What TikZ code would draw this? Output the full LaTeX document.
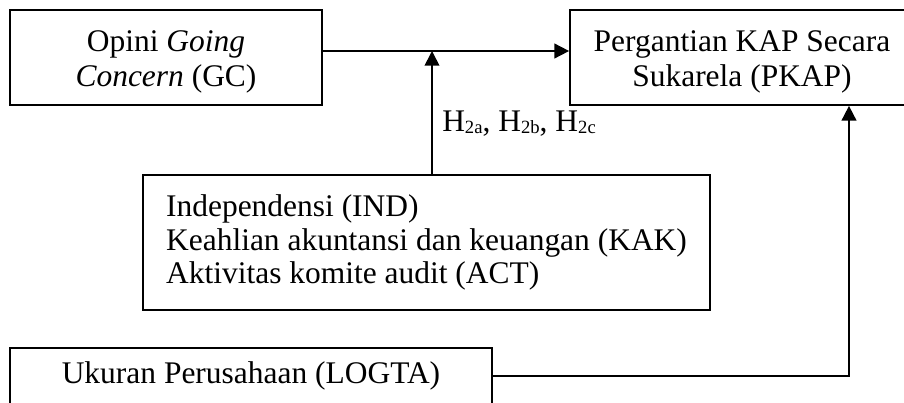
\documentclass[tikz,border=0pt]{standalone}
\usepackage{fontspec}
\setmainfont{Liberation Serif}
\usetikzlibrary{calc}
\usetikzlibrary{arrows.meta}
\def\Px{0.75pt}
\def\BoxHeight{95}
\def\JoinY{51}
\def\StemX{432}
\def\RiseX{849}
\newcommand\Hsub[1]{H\raisebox{-1.5pt}{\fontsize{14}{14}\selectfont #1}}
\newcommand\TopStrut{\rule{0pt}{22pt}}

\begin{document}
\begin{tikzpicture}[x=0.75pt,y=-0.75pt,
    font=\fontsize{23.6}{26}\selectfont,
    box/.style={draw, line width=1.3pt, inner sep=0pt, align=center},
    link/.style={line width=1.3pt, -{Triangle[length=11pt,width=11pt]}}]
  \useasboundingbox (0,0) rectangle (904,403);
  \clip (0,0) rectangle (904,403);
  % boxes
  \node[box, minimum width=312*\Px, minimum height=\BoxHeight*\Px] (GC) at (166,57.5)
    {\TopStrut Opini \textit{Going}\\\textit{Concern} (GC)};
  \node[box, minimum width=344*\Px, minimum height=\BoxHeight*\Px] (PKAP) at (742,57.5)
    {\TopStrut Pergantian KAP Secara\\Sukarela (PKAP)};
  \node[box, minimum width=567*\Px, minimum height=135*\Px, align=left,
        font=\fontsize{23.6}{25}\selectfont] (KOM) at (426.5,242.5)
    {Independensi (IND)\\Keahlian akuntansi dan keuangan (KAK)\\Aktivitas komite audit (ACT)};
  \node[box, minimum width=482*\Px, minimum height=56*\Px] (LOGTA) at (251,376)
    {Ukuran Perusahaan (LOGTA)};
  % joints
  \coordinate (J) at (\StemX,\JoinY);
  \coordinate (R) at (\RiseX,376);
  % arrows
  \draw[link] (GC.east |- J) -- (PKAP.west |- J);
  \draw[link] (KOM.north -| J) -- (J);
  \draw[link] (LOGTA.east |- R) -- (R) -- (PKAP.south -| R);
  % labels
  \node[anchor=west, inner sep=0pt] (H2) at (442,124)
    {\Hsub{2a}, \Hsub{2b}, \Hsub{2c}};
\end{tikzpicture}
\end{document}
